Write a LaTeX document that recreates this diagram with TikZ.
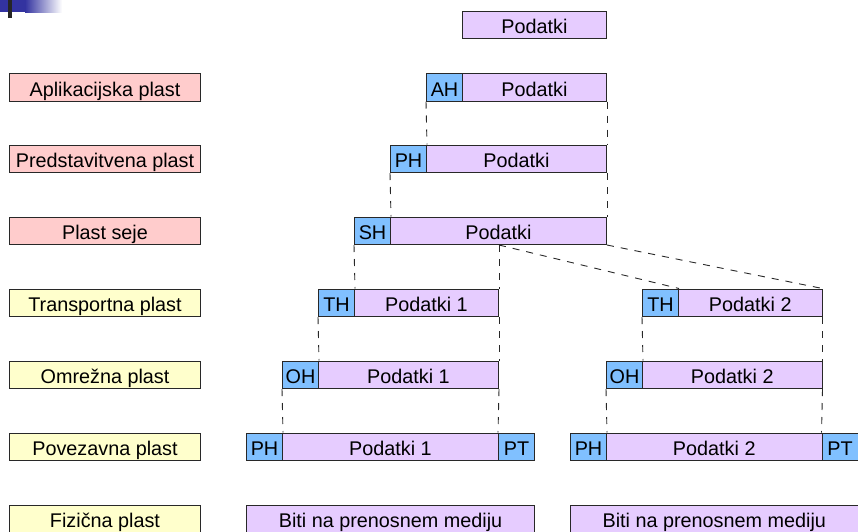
\documentclass[tikz,border=0pt]{standalone}
\usepackage{fontspec}
\setmainfont{Liberation Sans}
\definecolor{layerpink}{RGB}{255,204,204}
\definecolor{layeryellow}{RGB}{255,255,204}
\definecolor{payload}{RGB}{230,204,255}
\definecolor{hdr}{RGB}{128,192,255}
\definecolor{edge}{RGB}{40,40,40}
\definecolor{slideblue}{RGB}{51,51,160}
\tikzset{
  box/.style={draw=edge, line width=1pt, anchor=north west, inner sep=0pt,
    minimum height=27.5pt, text height=18pt, text depth=0pt,
    font=\fontsize{19.8}{22}\selectfont, text=black},
  layerA/.style={box, fill=layerpink, minimum width=191pt},
  layerB/.style={box, fill=layeryellow, minimum width=191pt},
  hbox/.style={box, fill=hdr, minimum width=36pt},
  dbox/.style={box, fill=payload},
  link/.style={draw=edge, line width=0.9pt, dash pattern=on 7pt off 7pt}
}
\begin{document}
\begin{tikzpicture}[x=1pt,y=-1pt]
\useasboundingbox (0,0) rectangle (858,531);
\clip (0,0) rectangle (858,531);

% slide corner ornament
\fill[slideblue] (0,0) rectangle (25,12);
\shade[left color=slideblue, right color=white] (25,0) rectangle (62,12);
\fill[black!85] (8,0) rectangle (12,18);

% layer names
\node[layerA] (L1) at (9,73)    {Aplikacijska plast};
\node[layerA] (L2) at (9,144.5) {Predstavitvena plast};
\node[layerA] (L3) at (9,216.5) {Plast seje};
\node[layerB] (L4) at (9,288.5) {Transportna plast};
\node[layerB] (L5) at (9,360.5) {Omrežna plast};
\node[layerB] (L6) at (9,432.5) {Povezavna plast};
\node[layerB] (L7) at (9,504.5) {Fizična plast};

% user data
\node[dbox, minimum width=144pt] (D0) at (462,10.5) {Podatki};

% application layer
\node[hbox] (AH) at (426,73) {AH};
\node[dbox, minimum width=144pt] (D1) at (462,73) {Podatki};

% presentation layer
\node[hbox] (PH) at (390,144.5) {PH};
\node[dbox, minimum width=180pt] (D2) at (426,144.5) {Podatki};

% session layer
\node[hbox] (SH) at (354,216.5) {SH};
\node[dbox, minimum width=216pt] (D3) at (390,216.5) {Podatki};

% transport layer
\node[hbox] (THa) at (318,288.5) {TH};
\node[dbox, minimum width=144pt] (D4a) at (354,288.5) {Podatki 1};
\node[hbox] (THb) at (642,288.5) {TH};
\node[dbox, minimum width=143.5pt] (D4b) at (678,288.5) {Podatki 2};

% network layer
\node[hbox] (OHa) at (282,360.5) {OH};
\node[dbox, minimum width=180pt] (D5a) at (318,360.5) {Podatki 1};
\node[hbox] (OHb) at (606,360.5) {OH};
\node[dbox, minimum width=179.5pt] (D5b) at (642,360.5) {Podatki 2};

% data link layer
\node[hbox] (PHa) at (246,432.5) {PH};
\node[dbox, minimum width=216pt] (D6a) at (282,432.5) {Podatki 1};
\node[hbox] (PTa) at (498,432.5) {PT};
\node[hbox] (PHb) at (570,432.5) {PH};
\node[dbox, minimum width=215.5pt] (D6b) at (606,432.5) {Podatki 2};
\node[hbox] (PTb) at (821.5,432.5) {PT};

% physical layer
\node[dbox, minimum width=288pt] (B1) at (246,504.5) {Biti na prenosnem mediju};
\node[dbox, minimum width=287.5pt] (B2) at (570,504.5) {Biti na prenosnem mediju};

% encapsulation guides
\draw[link] (AH.south west) -- (PH.north east);
\draw[link] (D1.south east) -- (D2.north east);
\draw[link] (PH.south west) -- (SH.north east);
\draw[link] (D2.south east) -- (D3.north east);
\draw[link] (SH.south west) -- (THa.north east);
\draw[link] (D4a.north east |- D3.south) -- (D4a.north east);
\draw[link] (D4a.north east |- D3.south) -- (THb.north east);
\draw[link] (D3.south east) -- (D4b.north east);
\draw[link] (THa.south west) -- (OHa.north east);
\draw[link] (D4a.south east) -- (D5a.north east);
\draw[link] (THb.south west) -- (OHb.north east);
\draw[link] (D4b.south east) -- (D5b.north east);
\draw[link] (OHa.south west) -- (PHa.north east);
\draw[link] (D5a.south east) -- (PTa.north west);
\draw[link] (OHb.south west) -- (PHb.north east);
\draw[link] (D5b.south east) -- (PTb.north west);
\end{tikzpicture}
\end{document}
